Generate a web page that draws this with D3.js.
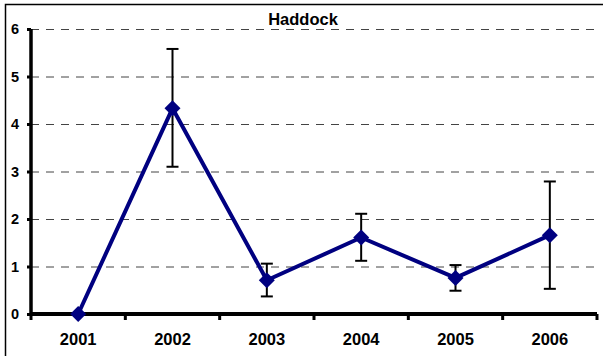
<!DOCTYPE html>
<html><head><meta charset="utf-8">
<script src="https://cdn.jsdelivr.net/npm/d3@7"></script>
<style>body{margin:0;background:#fff}svg{display:block}</style>
</head><body>
<script>
const years = ["2001","2002","2003","2004","2005","2006"];
const values = [0, 4.33, 0.71, 1.61, 0.76, 1.66];
const errHigh = [0, 5.58, 1.06, 2.11, 1.03, 2.79];
const errLow = [0, 3.10, 0.37, 1.12, 0.49, 0.53];
const yTicks = [0,1,2,3,4,5,6];
const title = "Haddock";

(function(){
const W = 603, H = 356;
const svg = d3.select("body").append("svg").attr("width", W).attr("height", H);
svg.append("rect").attr("x",5.5).attr("y",4.5).attr("width",W).attr("height",H)
  .attr("fill","#fff").attr("stroke","#000").attr("stroke-width",1.5);

const pL = 31, pR = 597, pT = 29, pB = 314;
const x = d3.scaleBand().domain(years).range([pL, pR]);
const y = d3.scaleLinear().domain([0,6]).range([pB, pT]);

// gridlines
svg.append("g").selectAll("line").data(yTicks.filter(d=>d>0)).join("line")
  .attr("x1", pL).attr("x2", pR).attr("y1", d=>y(d)+0.5).attr("y2", d=>y(d)+0.5)
  .attr("stroke","#444").attr("stroke-width",1).attr("stroke-dasharray","8,7");

// title
svg.append("text").attr("x",303).attr("y",25).attr("text-anchor","middle")
  .attr("font-family","Liberation Sans, Arial, sans-serif").attr("font-weight","bold")
  .attr("font-size",16.5).text(title);

// y axis
const yAxis = svg.append("g").attr("transform",`translate(${pL},0)`)
  .call(d3.axisLeft(y).tickValues(yTicks).tickSize(4).tickPadding(8).tickFormat(d3.format("d")));
yAxis.select(".domain").attr("stroke","#000").attr("stroke-width",3.5).attr("d",`M0,${pT}V${pB}`);
yAxis.selectAll(".tick line").attr("stroke","#000").attr("stroke-width",3);
yAxis.selectAll(".tick text").attr("font-family","Liberation Sans, Arial, sans-serif")
  .attr("font-weight","bold").attr("font-size",14.5).attr("fill","#000");

// x axis
const xAxis = svg.append("g").attr("transform",`translate(0,${pB})`)
  .call(d3.axisBottom(x).tickSize(0).tickPadding(19));
xAxis.select(".domain").attr("stroke","#000").attr("stroke-width",4).attr("d",`M${pL},0H${pR}`);
xAxis.selectAll(".tick text").attr("font-family","Liberation Sans, Arial, sans-serif")
  .attr("font-weight","bold").attr("font-size",16.5).attr("fill","#000");
const bounds = years.map(d=>x(d)).concat([x(years[years.length-1])+x.bandwidth()]);
xAxis.append("g").selectAll("line").data(bounds).join("line")
  .attr("x1",d=>d).attr("x2",d=>d).attr("y1",0).attr("y2",6)
  .attr("stroke","#000").attr("stroke-width",3);

const cx = d => x(d) + x.bandwidth()/2;

// error bars
const eb = svg.append("g").attr("stroke","#000").attr("stroke-width",2);
years.forEach((yr,i) => {
  if (errHigh[i] === errLow[i]) return;
  eb.append("line").attr("x1",cx(yr)).attr("x2",cx(yr)).attr("y1",y(errHigh[i])).attr("y2",y(errLow[i]));
  [errHigh[i], errLow[i]].forEach(v => {
    eb.append("line").attr("x1",cx(yr)-6).attr("x2",cx(yr)+6).attr("y1",y(v)).attr("y2",y(v));
  });
});

// line
const pts = years.map((yr,i)=>[cx(yr), y(values[i])]);
svg.append("path").attr("d", d3.line()(pts)).attr("fill","none")
  .attr("stroke","#000080").attr("stroke-width",4).attr("stroke-linejoin","round");

// markers
svg.append("g").selectAll("path").data(pts).join("path")
  .attr("transform",d=>`translate(${d[0]},${d[1]})`)
  .attr("d","M0,-8L8,0L0,8L-8,0Z").attr("fill","#000080");
})();
</script>
</body></html>
